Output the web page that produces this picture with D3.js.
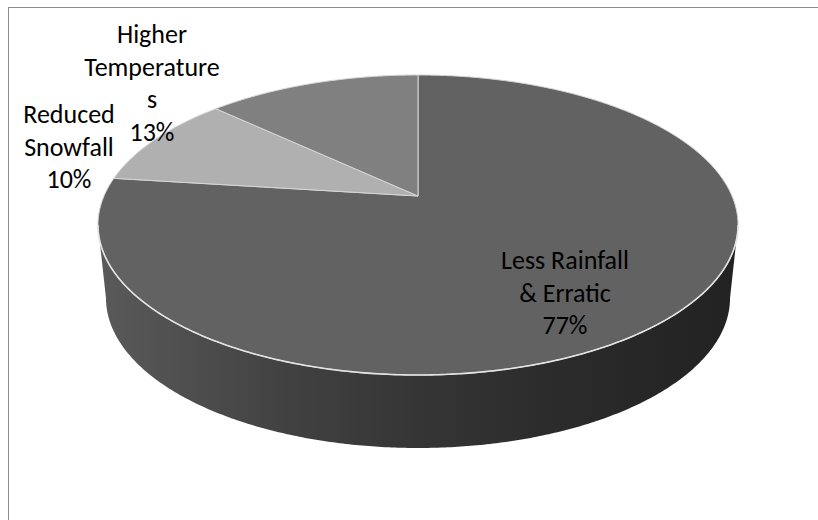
<!DOCTYPE html>
<html>
<head>
<meta charset="utf-8">
<script src="https://cdn.jsdelivr.net/npm/d3@7"></script>
<style>
  html, body { margin: 0; padding: 0; background: #ffffff; }
  svg { display: block; }
</style>
</head>
<body>
<svg id="chart" width="818" height="520"></svg>
<script>
// ---- data ----
const categories = ["Less Rainfall & Erratic", "Reduced Snowfall", "Higher Temperatures"];
const values = [77, 10, 13];
const labelLines = [["Less Rainfall", "& Erratic"], ["Reduced", "Snowfall"], ["Higher", "Temperature", "s"]];
const topColors = ["#626262", "#b0b0b0", "#808080"];

// ---- layout ----
const W = 818, H = 520;
const cx = 418, cy = 196;       // projected pie centre (top face)
const R = 314;                  // horizontal radius factor
const K = 144.4;                // vertical radius factor
const persp = 0.1933;           // perspective strength
const depth = 73;               // thickness of the pie in px
const bottomShrink = 0.975;     // bottom rim slightly narrower (perspective)
const labelAnchors = [[565, 269], [69, 123], [152, 43]];
const lineGap = 32.5;

const svg = d3.select("#chart");

// chart frame
svg.append("rect")
  .attr("x", 8.5).attr("y", 7.5)
  .attr("width", 840).attr("height", 540)
  .attr("fill", "none").attr("stroke", "#8c8c8c").attr("stroke-width", 1);

// projection of a rim point (angle clockwise from 12 o'clock) onto the screen
function proj(theta, level) {
  const X = Math.sin(theta), Z = Math.cos(theta);
  const w = 1 + persp * Z;
  const s = level ? bottomShrink : 1;
  return [cx + s * R * X / w, cy - K * Z / w + (level ? depth : 0)];
}
function rimPoints(a0, a1, level) {
  const n = Math.max(2, Math.ceil(Math.abs(a1 - a0) / (Math.PI / 360)));
  const pts = [];
  for (let i = 0; i <= n; i++) pts.push(proj(a0 + (a1 - a0) * i / n, level));
  return pts;
}

const pie = d3.pie().sort(null).value(d => d).startAngle(0).endAngle(2 * Math.PI);
const arcs = pie(values);
const total = d3.sum(values);

// gradient for side wall
const defs = svg.append("defs");
const grad = defs.append("linearGradient")
  .attr("id", "sideGrad").attr("gradientUnits", "userSpaceOnUse")
  .attr("x1", cx - R * 1.02).attr("x2", cx + R * 1.02).attr("y1", 0).attr("y2", 0);
[[0, "#5a5a5a"], [0.3, "#414141"], [0.5, "#353535"], [0.72, "#2b2b2b"], [1, "#222222"]]
  .forEach(([o, c]) => grad.append("stop").attr("offset", o).attr("stop-color", c));

// side wall: visible front part between the two silhouette angles
const silR = Math.acos(-persp);            // right silhouette (~101 deg)
const silL = 2 * Math.PI - silR;           // left silhouette (~259 deg)
const line = d3.line();
const sidePts = rimPoints(silR, silL, 0).concat(rimPoints(silL, silR, 1));
svg.append("path")
  .attr("d", line(sidePts) + "Z")
  .attr("fill", "url(#sideGrad)");

// top faces
svg.selectAll("path.slice")
  .data(arcs)
  .join("path")
  .attr("class", "slice")
  .attr("d", d => line([[cx, cy]].concat(rimPoints(d.startAngle, d.endAngle, 0))) + "Z")
  .attr("fill", (d, i) => topColors[i])
  .attr("stroke", "#d6d6d6")
  .attr("stroke-width", 1)
  .attr("stroke-linejoin", "round");

// light highlight along the front rim
svg.append("path")
  .attr("d", line(rimPoints(silR, silL, 0)))
  .attr("fill", "none")
  .attr("stroke", "#e4e4e4")
  .attr("stroke-width", 1.6);

// labels
const labels = svg.append("g")
  .attr("font-family", "Carlito, Calibri, Lato, 'Open Sans', sans-serif")
  .attr("font-size", 26)
  .attr("fill", "#000000")
  .attr("text-anchor", "middle");

arcs.forEach((d, i) => {
  const lines = labelLines[i].concat([Math.round(d.value / total * 100) + "%"]);
  const [lx, ly] = labelAnchors[i];
  const t = labels.append("text").attr("x", lx).attr("y", ly);
  lines.forEach((s, j) => {
    t.append("tspan").attr("x", lx).attr("y", ly + j * lineGap).text(s);
  });
});
</script>
</body>
</html>
